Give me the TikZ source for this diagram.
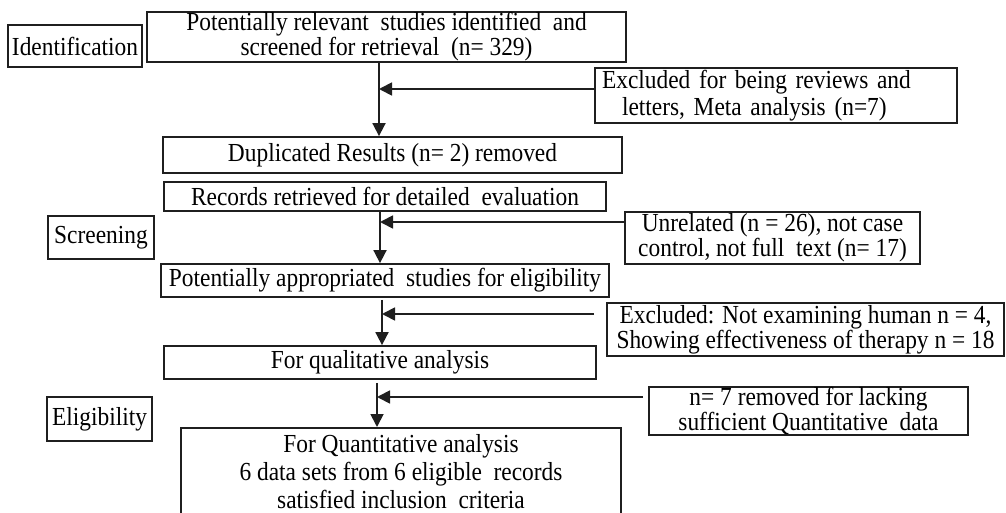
\documentclass[tikz,border=0pt]{standalone}
\usepackage{fontspec}
\setmainfont{Liberation Serif}[FakeStretch=0.9]
\usetikzlibrary{arrows.meta}
\tikzset{
  bx/.style={draw=black!88, line width=1.8pt, inner sep=0pt, align=center,
    font=\fontsize{26}{25}\selectfont, text=black},
  arr/.style={draw=black!88, line width=1.8pt, -{Triangle[length=13pt,width=13pt]}},
}
\begin{document}
\begin{tikzpicture}[x=1pt,y=-1pt]
\clip (0,0) rectangle (1006,513);
\fill[white] (0,0) rectangle (1006,513);
% stage labels
\node[bx, minimum width=134pt, minimum height=42pt] (ident) at (75,46) {Identification};
\node[bx, minimum width=106pt, minimum height=43pt] (screen) at (101,237.5) {Screening};
\node[bx, minimum width=105pt, minimum height=44pt] (elig) at (99.5,419) {Eligibility};
% main boxes
\node[bx, minimum width=479pt, minimum height=50pt] (top) at (386.5,37)
  {Potentially relevant\ \ studies identified\ \ and\\screened for retrieval\ \ (n= 329)};
\node[bx, minimum width=459pt, minimum height=36pt] (dup) at (392.5,155) {Duplicated Results (n= 2) removed};
\node[bx, minimum width=442pt, minimum height=29pt] (rec) at (385,196.5) {Records retrieved for detailed\ \ evaluation};
\node[bx, minimum width=448pt, minimum height=33pt] (appr) at (385,280.5) {Potentially appropriated\ \ studies for eligibility};
\node[bx, minimum width=432pt, minimum height=33pt] (qual) at (380,362.5) {For qualitative analysis};
\node[bx, minimum width=440pt, minimum height=88pt, anchor=north,
  font=\fontsize{26}{28}\selectfont] (quant) at (401,427)
  {For Quantitative analysis\\6 data sets from 6 eligible\ \ records\\satisfied inclusion\ \ criteria};
% exclusion boxes
\node[bx, minimum width=362pt, minimum height=55pt, align=left, text width=348pt,
  font=\fontsize{26}{27}\selectfont] (ex1) at (776,95.5)
  {Excluded for being reviews and\\\hspace*{20pt}letters, Meta analysis (n=7)};
\node[bx, minimum width=295pt, minimum height=52pt, font=\fontsize{26}{23}\selectfont] (unrel) at (772.5,238)
  {Unrelated (n = 26), not case\\control, not full\ \ text (n= 17)};
\node[bx, minimum width=397pt, minimum height=53pt, font=\fontsize{26}{23}\selectfont] (ex2) at (805.5,329.5)
  {Excluded: Not examining human n = 4,\\Showing effectiveness of therapy n = 18};
\node[bx, minimum width=319pt, minimum height=48pt, font=\fontsize{26}{22}\selectfont] (n7) at (808.5,411)
  {n= 7 removed for lacking\\sufficient Quantitative\ \ data};
% spine coordinates
\coordinate (s1) at (379,0);
\coordinate (s2) at (380,0);
\coordinate (s3) at (382,0);
\coordinate (s4) at (377,0);
\coordinate (h1) at (0,89);
\coordinate (h2) at (0,222);
\coordinate (h3) at (0,314);
\coordinate (h4) at (0,397);
% vertical arrows
\draw[arr] (s1 |- top.south) -- (s1 |- dup.north);
\draw[arr] (s2 |- rec.south) -- (s2 |- appr.north);
\draw[arr, shorten <=2pt] (s3 |- appr.south) -- (s3 |- qual.north);
\draw[arr, shorten <=3pt] (s4 |- qual.south) -- (s4 |- quant.north);
% horizontal arrows
\draw[arr] (ex1.west |- h1) -- (s1 |- h1);
\draw[arr] (unrel.west |- h2) -- (s2 |- h2);
\draw[arr, shorten <=12pt] (ex2.west |- h3) -- (s3 |- h3);
\draw[arr, shorten <=5pt] (n7.west |- h4) -- (s4 |- h4);
\end{tikzpicture}
\end{document}
